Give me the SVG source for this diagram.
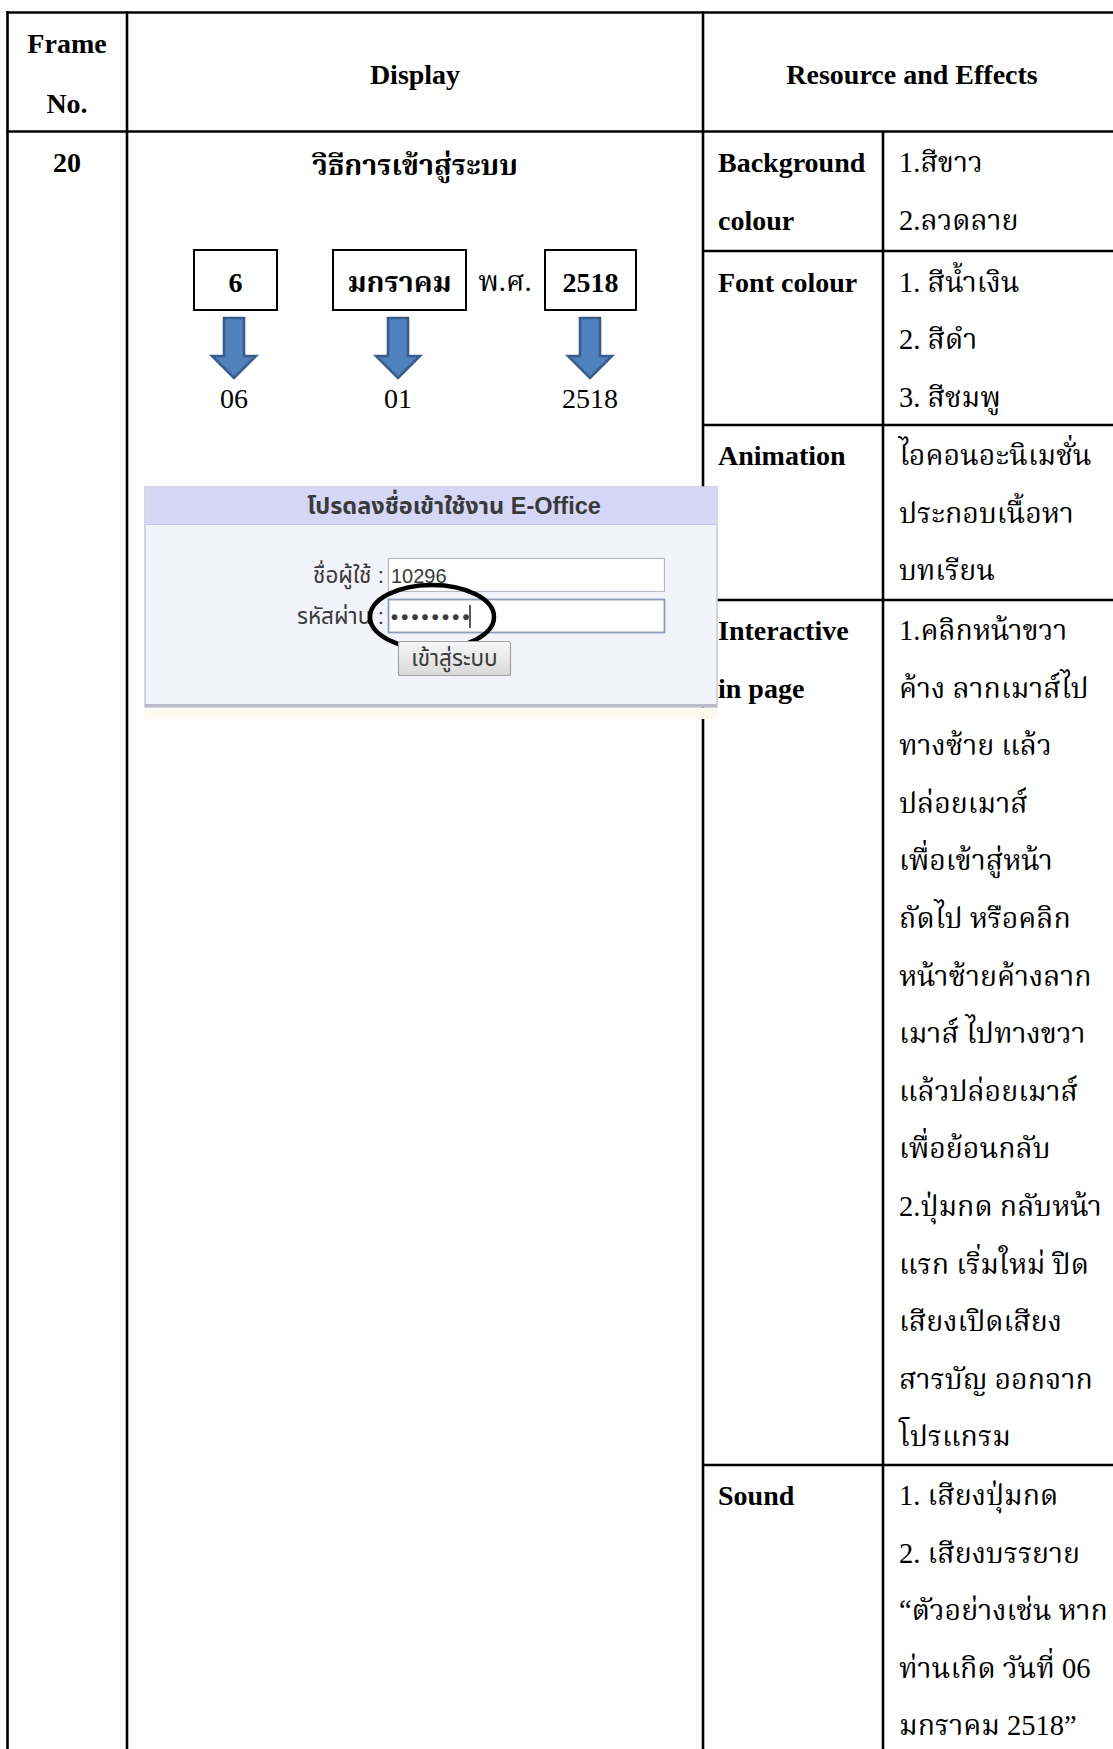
<svg xmlns="http://www.w3.org/2000/svg" width="1113" height="1749" viewBox="0 0 1113 1749">
  <defs>
    <style>
      .grid { stroke: #000; stroke-width: 2.6; fill: none; }
      .hd { font-family: "Liberation Serif", "Times New Roman", serif; font-weight: bold; font-size: 28px; fill: #000; }
      .lbl { font-family: "Liberation Serif", "Times New Roman", serif; font-weight: bold; font-size: 28px; fill: #000; }
      .th { font-family: "Liberation Serif", "Noto Serif Thai", "Noto Sans Thai", "Loma", "Garuda", serif; font-size: 28.5px; fill: #000; }
      .thb { font-family: "Liberation Serif", "Noto Serif Thai", "Noto Sans Thai", "Loma", "Garuda", serif; font-size: 28.5px; font-weight: bold; fill: #000; }
      .num { font-family: "Liberation Serif", "Times New Roman", serif; font-size: 28px; fill: #000; }
      .box { fill: #fff; stroke: #000; stroke-width: 2; }
      .arrow { fill: #4F81BD; stroke: #385D8A; stroke-width: 2.6; stroke-linejoin: miter; }
      .ui { font-family: "Liberation Sans", "Noto Sans Thai", "Loma", sans-serif; font-size: 20px; fill: #3a3a3a; }
      .ui-th { font-family: "Liberation Sans", "Noto Sans Thai", "Loma", sans-serif; font-size: 22.5px; fill: #3a3a3a; }
      .ui-title { font-family: "Liberation Sans", "Noto Sans Thai", "Loma", sans-serif; font-size: 23.5px; font-weight: bold; fill: #3a3a3a; }
    </style>
    <linearGradient id="btnFill" x1="0" y1="0" x2="0" y2="1">
      <stop offset="0" stop-color="#f7f7f7"/>
      <stop offset="1" stop-color="#d9d9d9"/>
    </linearGradient>
    <path id="downArrow" d="M-10,0 H10 V38 H22 L0,60 L-22,38 H-10 Z"/>
  </defs>

  <rect width="1113" height="1749" fill="#fff"/>

  <!-- table rules -->
  <g id="table-grid" class="grid">
    <line x1="6.2" y1="12.5" x2="1113" y2="12.5"/>
    <line x1="6.2" y1="131.5" x2="1113" y2="131.5"/>
    <line x1="7.5" y1="11.2" x2="7.5" y2="1749"/>
    <line x1="127" y1="11.2" x2="127" y2="1749"/>
    <line x1="703" y1="11.2" x2="703" y2="1749"/>
    <line x1="883" y1="131.5" x2="883" y2="1749"/>
    <line x1="703" y1="251" x2="1113" y2="251"/>
    <line x1="703" y1="425" x2="1113" y2="425"/>
    <line x1="703" y1="600" x2="1113" y2="600"/>
    <line x1="703" y1="1465" x2="1113" y2="1465"/>
  </g>

  <!-- header row -->
  <g id="header">
    <text class="hd" x="67" y="53" text-anchor="middle">Frame</text>
    <text class="hd" x="67" y="113" text-anchor="middle">No.</text>
    <text class="hd" x="415" y="84" text-anchor="middle">Display</text>
    <text class="hd" x="912" y="84" text-anchor="middle">Resource and Effects</text>
  </g>

  <!-- frame number -->
  <g id="frame-no">
    <text class="hd" x="67" y="172" text-anchor="middle">20</text>
  </g>

  <!-- display cell: date example -->
  <g id="display-title">
    <text class="thb" x="415" y="175" text-anchor="middle" font-size="28">วิธีการเข้าสู่ระบบ</text>
  </g>

  <g id="date-day">
    <rect class="box" x="194" y="250" width="83" height="60"/>
    <text class="hd" x="235.5" y="292" text-anchor="middle">6</text>
  </g>
  <g id="date-month">
    <rect class="box" x="333" y="250" width="133" height="60"/>
    <text class="thb" x="399.5" y="292" text-anchor="middle" font-size="28">มกราคม</text>
  </g>
  <g id="era-label">
    <text class="th" x="505" y="291" text-anchor="middle" font-size="27">พ.ศ.</text>
  </g>
  <g id="date-year">
    <rect class="box" x="545" y="250" width="91" height="60"/>
    <text class="hd" x="590.5" y="292" text-anchor="middle">2518</text>
  </g>

  <g id="connectors">
    <use href="#downArrow" class="arrow" x="234" y="318"/>
    <use href="#downArrow" class="arrow" x="398" y="318"/>
    <use href="#downArrow" class="arrow" x="590" y="318"/>
  </g>

  <g id="date-values">
    <text class="num" x="234" y="408" text-anchor="middle">06</text>
    <text class="num" x="398" y="408" text-anchor="middle">01</text>
    <text class="num" x="590" y="408" text-anchor="middle">2518</text>
  </g>

  <!-- login form screenshot -->
  <g id="login-form">
    <rect x="145" y="708" width="572" height="11" fill="#fcfaee"/>
    <rect x="145" y="487" width="572" height="220" fill="#f3f3fb" stroke="#c9c9d9" stroke-width="1.5"/>
    <rect x="145" y="487" width="572" height="37" fill="#d6d6f6"/>
    <line x1="145" y1="524.5" x2="717" y2="524.5" stroke="#c4c4e4" stroke-width="1"/>
    <line x1="145" y1="705.5" x2="717" y2="705.5" stroke="#b7bccb" stroke-width="3"/>
    <text class="ui-title" x="454" y="514" text-anchor="middle">โปรดลงชื่อเข้าใช้งาน E-Office</text>

    <text class="ui-th" x="384" y="583" text-anchor="end">ชื่อผู้ใช้ :</text>
    <rect x="388.5" y="558.5" width="276" height="33" fill="#fff" stroke="#b9b9c6" stroke-width="1.2"/>
    <text class="ui" x="391" y="583">10296</text>

    <text class="ui-th" x="384" y="624" text-anchor="end">รหัสผ่าน :</text>
    <rect x="388.5" y="599.5" width="276" height="33" fill="#fff" stroke="#8f9cb8" stroke-width="1.8"/>
    <text class="ui" x="391" y="624" font-weight="bold" font-size="22" letter-spacing="3.2" fill="#111">••••••••</text>
    <line x1="470" y1="605" x2="470" y2="628" stroke="#222" stroke-width="1.5"/>

    <ellipse cx="432" cy="617" rx="62" ry="32" fill="none" stroke="#000" stroke-width="4.5"/>

    <rect x="398.5" y="641.5" width="112" height="34" rx="2" fill="url(#btnFill)" stroke="#a3a3a3" stroke-width="1.2"/>
    <text class="ui-th" x="454.5" y="666" text-anchor="middle">เข้าสู่ระบบ</text>
  </g>

  <!-- resource and effects: background colour -->
  <g id="res-background">
    <text class="lbl" x="718" y="172">Background</text>
    <text class="lbl" x="718" y="230">colour</text>
    <text class="th" x="899" y="172">1.สีขาว</text>
    <text class="th" x="899" y="230">2.ลวดลาย</text>
  </g>

  <g id="res-font">
    <text class="lbl" x="718" y="292">Font colour</text>
    <text class="th" x="899" y="292">1. สีน้ำเงิน</text>
    <text class="th" x="899" y="349">2. สีดำ</text>
    <text class="th" x="899" y="407">3. สีชมพู</text>
  </g>

  <g id="res-animation">
    <text class="lbl" x="718" y="465">Animation</text>
    <text class="th" x="899" y="465">ไอคอนอะนิเมชั่น</text>
    <text class="th" x="899" y="523">ประกอบเนื้อหา</text>
    <text class="th" x="899" y="580">บทเรียน</text>
  </g>

  <g id="res-interactive">
    <text class="lbl" x="718" y="640">Interactive</text>
    <text class="lbl" x="718" y="697.6">in page</text>
    <text class="th" x="899" y="640">1.คลิกหน้าขวา</text>
    <text class="th" x="899" y="697.6">ค้าง ลากเมาส์ไป</text>
    <text class="th" x="899" y="755.2">ทางซ้าย แล้ว</text>
    <text class="th" x="899" y="812.8">ปล่อยเมาส์</text>
    <text class="th" x="899" y="870.4">เพื่อเข้าสู่หน้า</text>
    <text class="th" x="899" y="928">ถัดไป หรือคลิก</text>
    <text class="th" x="899" y="985.6">หน้าซ้ายค้างลาก</text>
    <text class="th" x="899" y="1043.2">เมาส์ ไปทางขวา</text>
    <text class="th" x="899" y="1100.8">แล้วปล่อยเมาส์</text>
    <text class="th" x="899" y="1158.4">เพื่อย้อนกลับ</text>
    <text class="th" x="899" y="1216">2.ปุ่มกด กลับหน้า</text>
    <text class="th" x="899" y="1273.6">แรก เริ่มใหม่ ปิด</text>
    <text class="th" x="899" y="1331.2">เสียงเปิดเสียง</text>
    <text class="th" x="899" y="1388.8">สารบัญ ออกจาก</text>
    <text class="th" x="899" y="1446.4">โปรแกรม</text>
  </g>

  <g id="res-sound">
    <text class="lbl" x="718" y="1505">Sound</text>
    <text class="th" x="899" y="1505">1. เสียงปุ่มกด</text>
    <text class="th" x="899" y="1562.6">2. เสียงบรรยาย</text>
    <text class="th" x="899" y="1620.2">“ตัวอย่างเช่น หาก</text>
    <text class="th" x="899" y="1677.8">ท่านเกิด วันที่ 06</text>
    <text class="th" x="899" y="1735.4">มกราคม 2518”</text>
  </g>
</svg>
